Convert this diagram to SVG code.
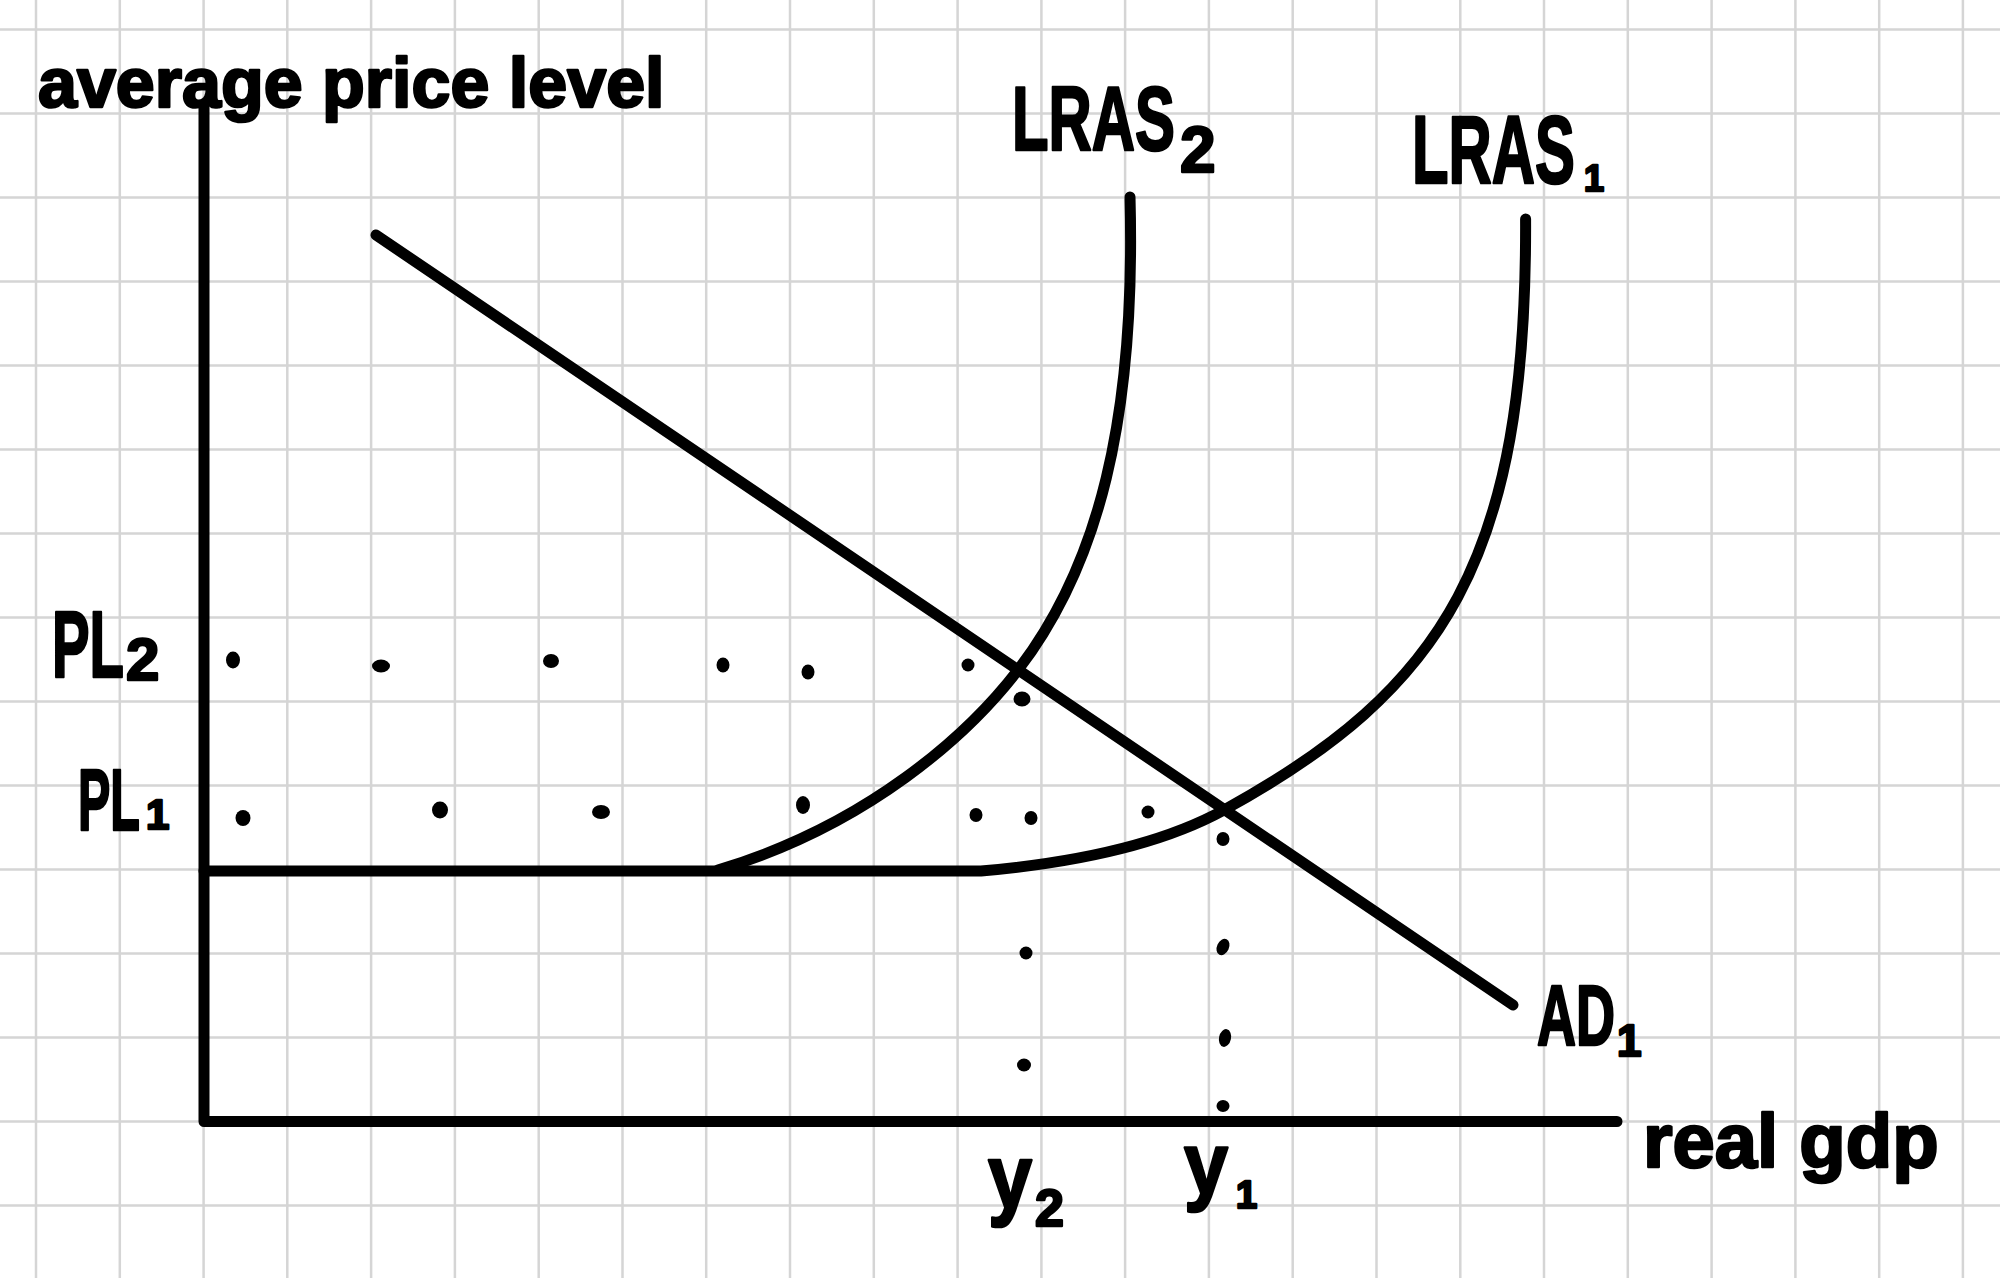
<svg xmlns="http://www.w3.org/2000/svg" width="2000" height="1278" viewBox="0 0 2000 1278">
<style>
.grid{stroke:#d5d5d5;stroke-width:2.5;fill:none}
.ln{stroke:#000;stroke-width:11;fill:none;stroke-linecap:round;stroke-linejoin:round}
.hw{font-family:"Liberation Sans",Arial,sans-serif;font-weight:bold;fill:#000;stroke:#000;stroke-width:2.5;stroke-linejoin:round}
.dot{fill:#000}
</style>
<rect width="2000" height="1278" fill="#fff"/>
<g id="grid">
<path class="grid" d="M36,0V1278M119.8,0V1278M203.6,0V1278M287.3,0V1278M371.1,0V1278M454.9,0V1278M538.7,0V1278M622.5,0V1278M706.2,0V1278M790,0V1278M873.8,0V1278M957.6,0V1278M1041.4,0V1278M1125.1,0V1278M1208.9,0V1278M1292.7,0V1278M1376.5,0V1278M1460.3,0V1278M1544,0V1278M1627.8,0V1278M1711.6,0V1278M1795.4,0V1278M1879.2,0V1278M1962.9,0V1278M0,29.5H2000M0,113.5H2000M0,197.5H2000M0,281.5H2000M0,365.5H2000M0,449.5H2000M0,533.5H2000M0,617.5H2000M0,701.5H2000M0,785.5H2000M0,869.5H2000M0,953.5H2000M0,1037.5H2000M0,1121.5H2000M0,1205.5H2000"/>
</g>
<g id="axes">
<path class="ln" d="M204,107V1121.5H1617"/>
<text class="hw" x="38" y="107" font-size="70">average price level</text>
<text class="hw" x="1643" y="1167" font-size="76">real gdp</text>
</g>
<g id="connectors">
<path id="ad-line" class="ln" d="M376,235L1513,1005"/>
<path id="lras1-line" class="ln" d="M204,871L981,871C1061,864 1154,848.5 1224,810C1444,689 1527,560 1525.6,219"/>
<path id="lras2-line" class="ln" d="M718,870C868,825 968,735 1018,670C1098,566 1136,420 1130,197"/>
</g>
<g id="label-lras2">
<text class="hw" font-size="90" transform="translate(1012,150) scale(0.665,1)">LRAS</text>
<text class="hw" x="1180" y="172" font-size="64">2</text>
</g>
<g id="label-lras1">
<text class="hw" font-size="97" transform="translate(1412,183) scale(0.617,1)">LRAS</text>
<text class="hw" x="1584" y="191" font-size="36">1</text>
</g>
<g id="label-ad1">
<text class="hw" font-size="85" transform="translate(1537,1045) scale(0.636,1)">AD</text>
<text class="hw" x="1617" y="1056" font-size="44">1</text>
</g>
<g id="label-pl2">
<text class="hw" font-size="95" transform="translate(52,677) scale(0.593,1)">PL</text>
<text class="hw" x="126" y="680" font-size="60">2</text>
</g>
<g id="label-pl1">
<text class="hw" font-size="88" transform="translate(78,830) scale(0.551,1)">PL</text>
<text class="hw" x="146" y="829" font-size="42">1</text>
</g>
<g id="label-y2">
<text class="hw" font-size="90" transform="translate(988,1208) scale(0.88,1)">y</text>
<text class="hw" x="1035" y="1226" font-size="52">2</text>
</g>
<g id="label-y1">
<text class="hw" font-size="88" transform="translate(1184,1194) scale(0.9,1)">y</text>
<text class="hw" x="1236" y="1208" font-size="38">1</text>
</g>
<g id="guide-dots">
<ellipse class="dot" cx="233" cy="660" rx="7" ry="8.5"/>
<ellipse class="dot" cx="381" cy="666" rx="9" ry="6.5"/>
<ellipse class="dot" cx="551" cy="661" rx="8" ry="7"/>
<ellipse class="dot" cx="723" cy="665" rx="6.5" ry="7.5"/>
<ellipse class="dot" cx="808" cy="672" rx="6.5" ry="7.5"/>
<ellipse class="dot" cx="968" cy="665" rx="6.5" ry="6.5"/>
<ellipse class="dot" cx="1022" cy="699" rx="8.5" ry="7.5"/>
<ellipse class="dot" cx="243" cy="818" rx="7.5" ry="8"/>
<ellipse class="dot" cx="440" cy="810" rx="8" ry="8.5"/>
<ellipse class="dot" cx="601" cy="812" rx="9" ry="7"/>
<ellipse class="dot" cx="803" cy="805" rx="7" ry="9"/>
<ellipse class="dot" cx="976" cy="815" rx="6.5" ry="7"/>
<ellipse class="dot" cx="1031" cy="818" rx="6.5" ry="7"/>
<ellipse class="dot" cx="1148" cy="812" rx="6.5" ry="6.5"/>
<ellipse class="dot" cx="1223" cy="839" rx="6.5" ry="7"/>
<ellipse class="dot" cx="1026" cy="953" rx="6.5" ry="6.5"/>
<ellipse class="dot" cx="1024" cy="1065" rx="7" ry="6.5"/>
<ellipse class="dot" cx="1223" cy="947" rx="6" ry="8.5" transform="rotate(25 1223 947)"/>
<ellipse class="dot" cx="1225" cy="1038" rx="6" ry="9" transform="rotate(12 1225 1038)"/>
<ellipse class="dot" cx="1223" cy="1106" rx="6.5" ry="6"/>
</g>
</svg>
